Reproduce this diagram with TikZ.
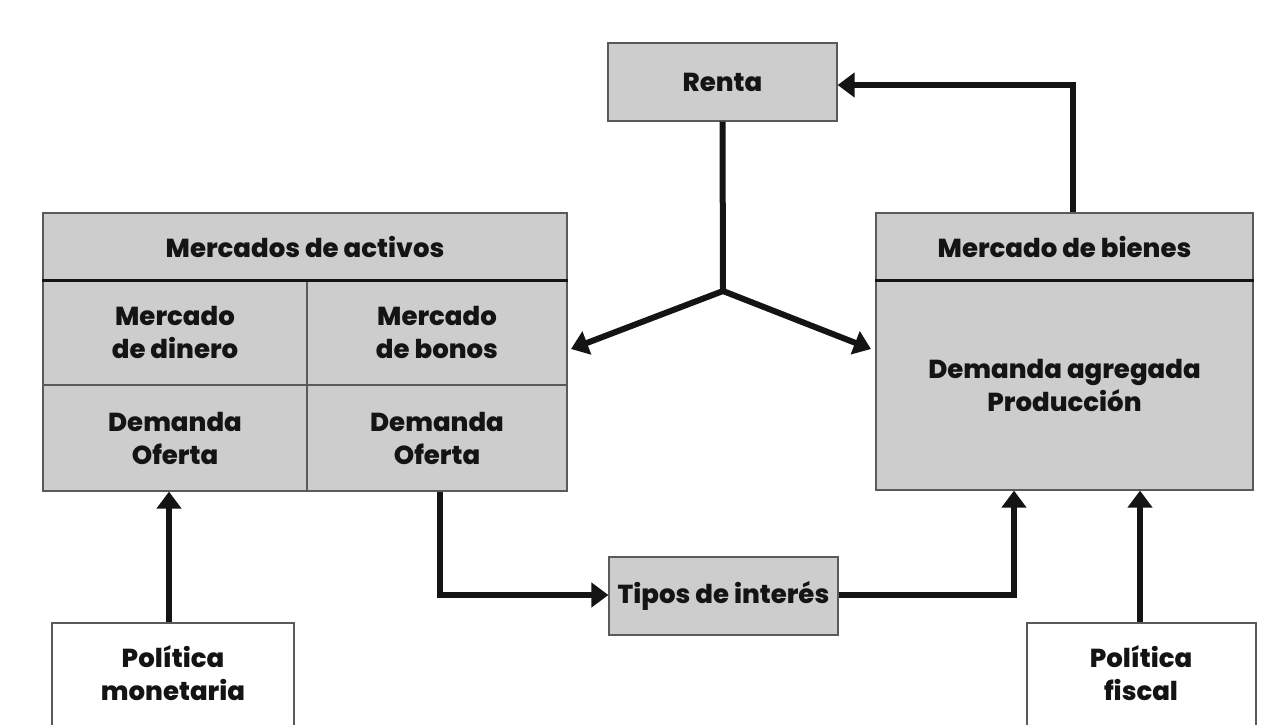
\documentclass[tikz,border=0pt]{standalone}
\usepackage{fontspec}
\setmainfont{Poppins}[BoldFont=* ExtraBold]
\usetikzlibrary{arrows.meta}
\definecolor{boxgray}{RGB}{205,205,205}
\definecolor{edgegray}{RGB}{90,90,90}
\definecolor{ink}{RGB}{20,20,20}
\tikzset{
  cell/.style={draw=edgegray, line width=1.2pt, fill=boxgray, inner sep=0pt, align=center,
    font=\bfseries\fontsize{26}{33}\selectfont, text=ink},
  wbox/.style={draw=edgegray, line width=1.2pt, fill=white, inner sep=0pt},
  lbl/.style={align=center, font=\bfseries\fontsize{26}{33}\selectfont, text=ink, inner sep=0pt},
  flow/.style={line width=6pt, draw=ink, -{Triangle[length=17pt,width=24pt]}},
  plain/.style={line width=6pt, draw=ink},
  divline/.style={line width=2.6pt, draw=ink},
}
\begin{document}
\begin{tikzpicture}[x=1pt,y=-1pt]
\fill[white] (0,0) rectangle (1284,724);
\useasboundingbox (0,0) rectangle (1284,724);
\clip (0,0) rectangle (1284,724);

% Renta
\node[cell, minimum width=229pt, minimum height=78pt] (renta) at (722.5,82) {Renta};

% Mercados de activos
\node[cell, minimum width=524pt, minimum height=67pt] (activos) at (305,246.5) {Mercados de activos};
\node[cell, minimum width=264pt, minimum height=105pt] (dinero) at (175,332.5) {Mercado\\de dinero};
\node[cell, minimum width=260pt, minimum height=105pt] (bonos) at (437,332.5) {Mercado\\de bonos};
\node[cell, minimum width=264pt, minimum height=106pt] (dofa) at (175,438) {Demanda\\Oferta};
\node[cell, minimum width=260pt, minimum height=106pt] (dofb) at (437,438) {Demanda\\Oferta};
\draw[divline] (activos.south west) -- (activos.south east);

% Mercado de bienes
\node[cell, minimum width=377pt, minimum height=67pt] (bienes) at (1064.5,246.5) {Mercado de bienes};
\node[cell, minimum width=377pt, minimum height=210pt] (demagr) at (1064.5,385) {Demanda agregada\\Producción};
\draw[divline] (bienes.south west) -- (bienes.south east);

% Tipos de interes
\node[cell, minimum width=229pt, minimum height=78pt] (tipos) at (723.5,596) {Tipos de interés};

% Politicas
\node[wbox, minimum width=242pt, minimum height=120pt] (polmon) at (173,683) {};
\node[lbl] (polmontxt) at (173,673) {Política\\monetaria};
\node[wbox, minimum width=229pt, minimum height=120pt] (polfis) at (1141.5,683) {};
\node[lbl] (polfistxt) at (1141,673) {Política\\fiscal};

% Connectors
\coordinate (junc) at (723,291);
\draw[plain] (renta.south) -- (junc);
\draw[flow] (junc) -- (571,349);
\draw[flow] (junc) -- (871,349);

\draw[flow] (bienes.north -| 1073,0) -- (1073,85) -- (renta.east |- 0,85);

\draw[flow] (dofb.south -| 440,0) -- (440,595) -- (tipos.west |- 0,595);
\draw[flow] (tipos.east |- 0,595) -- (1014,595) -- (demagr.south -| 1014,0);

\draw[flow] (polmon.north -| 169,0) -- (dofa.south -| 169,0);
\draw[flow] (polfis.north -| 1140,0) -- (demagr.south -| 1140,0);
\end{tikzpicture}
\end{document}
